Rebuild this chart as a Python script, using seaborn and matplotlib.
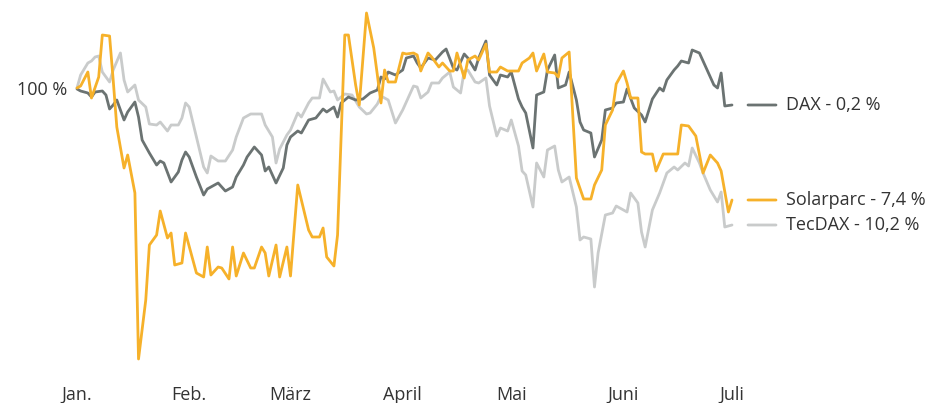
import pandas as pd
import numpy as np
import matplotlib
matplotlib.use("Agg")
import matplotlib.pyplot as plt
import matplotlib.dates as mdates
from matplotlib.transforms import offset_copy
import seaborn as sns

# Index values (start = 100); days counted from 1 Jan 2010
dax_days = [0, 1, 3, 4, 5, 7, 8, 9, 10, 11, 13, 14, 16, 17, 18, 20, 22, 23, 24, 26,
            28, 29, 30, 31, 33, 35, 36, 37, 39, 41, 43, 44, 46, 47, 49, 51, 52, 53, 55, 57,
            58, 59, 61, 62, 64, 66, 68, 69, 71, 72, 73, 75, 77, 79, 81, 83, 84, 85, 86, 88,
            90, 91, 93, 94, 95, 97, 99, 101, 102, 104, 105, 107, 108, 110, 111, 113, 114, 116, 117, 119,
            120, 122, 123, 124, 126, 127, 129, 130, 132, 133, 135, 136, 138, 139, 140, 142, 143, 145, 146, 148,
            149, 151, 152, 154, 156, 157, 159, 161, 162, 163, 165, 166, 167, 169, 170, 172, 174, 176, 177, 178,
            179, 181]
dax_values = [99.9, 99.7, 99.5, 99.1, 99.6, 99.7, 99.3, 97.9, 98.3, 98.8, 96.8, 97.6, 98.6, 97.1, 94.8, 93.5, 92.3, 92.7, 92.5, 90.6,
              91.6, 92.8, 93.6, 93.1, 91.1, 89.3, 89.9, 90.1, 90.5, 89.7, 90.1, 91.1, 92.3, 93.1, 94.1, 93.3, 91.7, 92.1, 90.5, 92.0,
              94.3, 95.1, 95.7, 95.5, 96.8, 97.0, 97.9, 97.6, 98.1, 97.1, 98.5, 99.1, 98.8, 98.9, 99.5, 99.8, 101.1, 100.9, 101.6, 101.3,
              101.8, 103.0, 103.2, 102.5, 102.0, 103.0, 102.8, 103.6, 103.9, 102.0, 101.8, 103.4, 103.0, 101.8, 103.0, 104.7, 101.3, 100.3, 101.3, 101.1,
              101.6, 98.9, 98.1, 97.5, 94.0, 99.3, 99.6, 101.8, 103.3, 100.0, 100.3, 101.6, 98.8, 96.6, 95.8, 95.5, 93.1, 94.8, 97.8, 98.0,
              98.5, 98.6, 99.9, 98.0, 97.3, 96.6, 98.9, 100.0, 99.7, 100.8, 101.8, 102.2, 102.7, 102.5, 103.8, 103.5, 101.9, 100.3, 100.0, 101.5,
              98.2, 98.3]

tecdax_days = [0, 1, 3, 4, 5, 6, 7, 9, 10, 12, 13, 14, 16, 17, 19, 20, 22, 23, 25, 26,
               28, 29, 30, 31, 33, 35, 36, 37, 39, 41, 43, 44, 46, 48, 51, 52, 54, 55, 56, 58,
               59, 61, 62, 64, 65, 67, 68, 70, 71, 72, 74, 76, 78, 80, 81, 83, 84, 86, 88, 90,
               93, 94, 95, 97, 98, 100, 101, 103, 104, 106, 107, 108, 110, 111, 113, 114, 116, 117, 119, 120,
               122, 123, 124, 126, 127, 129, 130, 132, 133, 134, 136, 138, 139, 140, 142, 143, 144, 146, 148, 149,
               152, 153, 155, 156, 157, 159, 161, 163, 165, 166, 168, 169, 170, 172, 173, 175, 177, 178, 179, 181]
tecdax_values = [100.0, 101.3, 102.5, 102.7, 103.1, 103.2, 101.6, 100.6, 101.8, 103.5, 100.8, 99.6, 100.3, 98.8, 98.1, 96.4, 96.3, 96.6, 95.7, 96.3,
                 96.3, 97.0, 98.5, 98.1, 95.1, 92.1, 91.5, 93.2, 92.7, 92.7, 93.8, 95.1, 97.0, 97.4, 97.4, 96.3, 95.1, 92.5, 93.9, 95.3,
                 95.8, 97.5, 97.1, 98.5, 99.0, 99.0, 100.9, 99.6, 99.7, 98.8, 99.4, 99.3, 98.1, 97.4, 97.5, 98.4, 99.2, 98.8, 96.5, 97.8,
                 100.2, 100.1, 99.0, 99.6, 100.5, 100.5, 101.0, 101.6, 100.1, 99.5, 101.7, 101.8, 100.6, 100.5, 101.0, 98.2, 95.2, 96.0, 95.7, 96.8,
                 94.2, 91.7, 91.3, 88.1, 92.5, 91.1, 93.8, 94.2, 91.8, 90.6, 91.1, 88.1, 84.8, 85.1, 84.9, 80.1, 83.5, 87.3, 87.5, 88.2,
                 87.6, 89.5, 88.5, 85.6, 84.1, 87.8, 89.5, 91.5, 92.1, 91.8, 92.5, 92.2, 94.0, 92.5, 91.5, 89.8, 88.6, 89.6, 86.1, 86.3]

solar_days = [0, 1, 3, 4, 6, 7, 9, 10, 11, 13, 14, 16, 17, 19, 20, 22, 23, 25, 26, 27,
              29, 30, 33, 35, 36, 37, 39, 40, 42, 43, 44, 46, 48, 49, 51, 52, 53, 55, 56, 58,
              59, 61, 64, 65, 67, 68, 69, 71, 72, 74, 75, 77, 78, 80, 82, 83, 84, 85, 86, 88,
              90, 91, 93, 94, 95, 97, 98, 100, 101, 103, 104, 105, 107, 108, 110, 111, 113, 114, 116, 117,
              119, 120, 122, 123, 125, 126, 127, 129, 130, 132, 133, 134, 136, 138, 140, 142, 143, 145, 146, 148,
              149, 151, 152, 153, 155, 156, 157, 159, 160, 162, 164, 166, 167, 169, 171, 173, 175, 177, 178, 180,
              181]
solar_values = [100.0, 100.2, 101.6, 99.0, 101.1, 105.3, 105.2, 100.8, 96.1, 92.0, 93.3, 89.5, 72.9, 78.8, 84.3, 85.3, 87.7, 85.0, 85.5, 82.3,
                82.5, 85.5, 81.5, 81.1, 84.1, 81.3, 82.1, 82.0, 80.9, 84.1, 81.2, 83.5, 82.0, 82.0, 84.1, 83.5, 81.2, 84.3, 81.1, 84.1,
                81.2, 90.3, 85.8, 85.1, 85.1, 86.0, 83.1, 82.2, 85.3, 105.3, 105.3, 100.3, 98.3, 107.5, 104.0, 101.3, 98.5, 101.8, 100.6, 100.6,
                103.5, 103.4, 103.5, 103.3, 101.7, 103.5, 103.1, 102.1, 102.5, 101.7, 101.7, 103.5, 101.0, 102.8, 103.2, 102.8, 104.4, 101.6, 101.6, 102.1,
                101.7, 101.7, 101.7, 102.5, 103.0, 103.5, 101.7, 103.4, 101.6, 101.5, 101.1, 103.0, 103.6, 91.0, 88.9, 88.9, 90.3, 91.8, 96.3, 97.8,
                100.4, 101.7, 100.5, 99.0, 99.0, 93.6, 93.4, 93.4, 91.7, 93.4, 93.4, 93.4, 96.3, 96.2, 95.2, 91.5, 93.3, 92.5, 91.7, 87.6,
                88.8]

series_names = ["DAX", "Solarparc", "TecDAX"]
series_labels = ["DAX - 0,2 %", "Solarparc - 7,4 %", "TecDAX - 10,2 %"]
month_labels = ["Jan.", "Feb.", "März", "April", "Mai", "Juni", "Juli"]
colors = {"DAX": "#6b7372", "Solarparc": "#f6b12a", "TecDAX": "#c9cbcb"}

start = pd.Timestamp("2010-01-01")
frames = []
for name, days, vals in [("TecDAX", tecdax_days, tecdax_values),
                         ("DAX", dax_days, dax_values),
                         ("Solarparc", solar_days, solar_values)]:
    frames.append(pd.DataFrame({"date": start + pd.to_timedelta(days, unit="D"),
                                "value": vals, "series": name}))
df = pd.concat(frames, ignore_index=True)

sns.set_style("white")
plt.rcParams["font.family"] = ["Open Sans", "DejaVu Sans"]
text_color = "#333333"

fig = plt.figure(figsize=(9.28, 4.03), dpi=100)
# axes: 100 % at pixel row 88, 10 px per percent
ax = fig.add_axes([77 / 928, (403 - 362) / 403, 655 / 928, 357 / 403])

sns.lineplot(data=df, x="date", y="value", hue="series", palette=colors,
             hue_order=["TecDAX", "DAX", "Solarparc"], linewidth=2, ax=ax,
             legend=False, estimator=None, sort=False)
for line in ax.lines:
    line.set_clip_on(False)

ax.set_xlim(start, pd.Timestamp("2010-07-01"))
ax.set_ylim(100 - (362 - 88) / 10, 100 + (88 - 5) / 10)

month_starts = pd.date_range("2010-01-01", periods=7, freq="MS")
ax.set_xticks(month_starts)
ax.set_xticklabels(month_labels)
ax.set_yticks([100])
ax.set_yticklabels(["100 %"])
ax.tick_params(axis="x", length=0, pad=17, labelsize=13, labelcolor=text_color)
ax.tick_params(axis="y", length=0, pad=7, labelsize=13, labelcolor=text_color)
ax.set_xlabel("")
ax.set_ylabel("")
sns.despine(ax=ax, left=True, bottom=True)

# labels at line ends
seg_a = offset_copy(ax.transData, fig=fig, x=16, y=0, units="dots")
seg_b = offset_copy(ax.transData, fig=fig, x=44, y=0, units="dots")
for name, label in zip(series_names, series_labels):
    sub = df[df["series"] == name]
    xe = mdates.date2num(sub["date"].iloc[-1])
    ye = sub["value"].iloc[-1]
    ax.annotate("", xy=(xe, ye), xycoords=seg_b, xytext=(xe, ye), textcoords=seg_a,
                arrowprops=dict(arrowstyle="-", color=colors[name], lw=2,
                                shrinkA=0, shrinkB=0), annotation_clip=False)
    ax.annotate(label, xy=(xe, ye), xytext=(54, 0), textcoords="offset pixels",
                va="center", ha="left", fontsize=13, color=text_color,
                annotation_clip=False)

fig.savefig("out.png", dpi=100)
